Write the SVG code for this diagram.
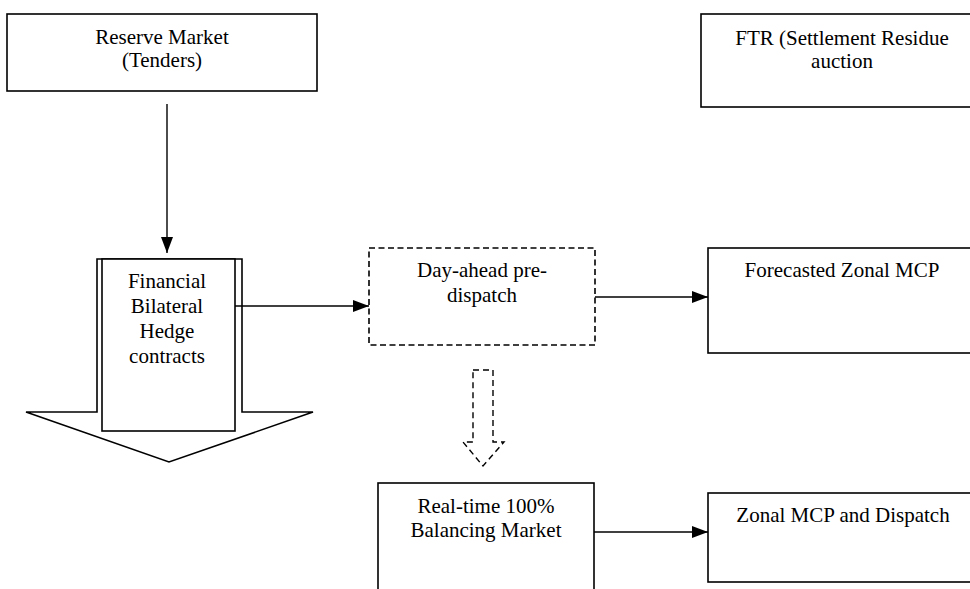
<svg xmlns="http://www.w3.org/2000/svg" width="970" height="589" viewBox="0 0 970 589">
<style>
.box{fill:#fff;stroke:#000;stroke-width:1.6}
.dash{fill:#fff;stroke:#000;stroke-width:1.6;stroke-dasharray:6,3.5}
.conn{fill:none;stroke:#000;stroke-width:1.4}
text{font-family:"Liberation Serif","Times New Roman",serif;font-size:21px;fill:#000;text-anchor:middle}
</style>
<defs>
<marker id="ah" markerWidth="16" markerHeight="12" refX="16" refY="6" orient="auto" markerUnits="userSpaceOnUse">
<path d="M0,0 L16,6 L0,12 Z" fill="#000"/>
</marker>
</defs>
<rect width="970" height="589" fill="#fff"/>
<g id="reserve">
<rect class="box" x="7" y="14" width="310" height="77"/>
<text x="162" y="44">Reserve Market</text>
<text x="162" y="67">(Tenders)</text>
</g>
<g id="ftr">
<rect class="box" x="701" y="14" width="280" height="93"/>
<text x="842" y="45">FTR (Settlement Residue</text>
<text x="842" y="68">auction</text>
</g>
<g id="hedge">
<path class="box" d="M97,259 L242,259 L242,412 L313,412 L169,462 L26,412 L97,412 Z"/>
<rect class="box" x="102" y="259" width="133" height="172"/>
<text x="167" y="288">Financial</text>
<text x="167" y="313">Bilateral</text>
<text x="167" y="338">Hedge</text>
<text x="167" y="363">contracts</text>
</g>
<g id="dayahead">
<rect class="dash" x="369" y="248" width="226" height="97"/>
<text x="482" y="277">Day-ahead pre-</text>
<text x="482" y="302">dispatch</text>
</g>
<g id="forecast">
<rect class="box" x="708" y="248" width="280" height="105"/>
<text x="842" y="277">Forecasted Zonal MCP</text>
</g>
<g id="realtime">
<rect class="box" x="378" y="483" width="216" height="120"/>
<text x="486" y="513">Real-time 100%</text>
<text x="486" y="537">Balancing Market</text>
</g>
<g id="zonal">
<rect class="box" x="708" y="493" width="280" height="89"/>
<text x="843" y="522">Zonal MCP and Dispatch</text>
</g>
<g id="connectors">
<line class="conn" x1="167" y1="104" x2="167" y2="253" marker-end="url(#ah)"/>
<line class="conn" x1="235" y1="306" x2="369" y2="306" marker-end="url(#ah)"/>
<line class="conn" x1="595" y1="297" x2="708" y2="297" marker-end="url(#ah)"/>
<line class="conn" x1="594" y1="532" x2="708" y2="532" marker-end="url(#ah)"/>
<path class="dash" d="M473,370 L493,370 L493,442 L504,442 L483,466 L463,442 L473,442 Z" style="stroke-width:1.4;stroke-dasharray:6,4"/>
</g>
</svg>
